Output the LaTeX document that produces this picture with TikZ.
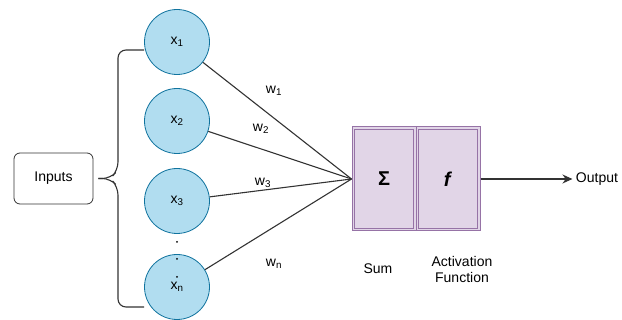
\documentclass[tikz,border=0pt]{standalone}
\usepackage{fontspec}
\setmainfont{Liberation Sans}
\usetikzlibrary{arrows.meta}
\definecolor{inblue}{HTML}{B1DDF0}
\definecolor{inedge}{HTML}{10739E}
\definecolor{unitfill}{HTML}{E1D5E7}
\definecolor{unitedge}{HTML}{9673A6}
\definecolor{wire}{HTML}{333333}
\begin{document}
\begin{tikzpicture}[x=1pt, y=-1pt,
  neuron/.style={circle, draw=inedge, fill=inblue, thick, minimum size=65pt, inner sep=0pt, font=\fontsize{14}{16}\selectfont},
  unitbox/.style={rectangle, draw=unitedge, line width=1pt, fill=unitfill, minimum width=64pt, minimum height=104pt, inner sep=0pt, font=\fontsize{20}{22}\selectfont},
  wlabel/.style={font=\fontsize{14}{16}\selectfont, inner sep=1pt},
  plain/.style={font=\fontsize{14}{16}\selectfont, align=center},
  wire/.style={draw=wire, line width=1.1pt},
  ]
 \useasboundingbox (0,0) rectangle (622,320);
 % inputs
 \node [rectangle, rounded corners=6pt, draw=wire, thick, minimum width=79pt, minimum height=51pt, font=\fontsize{14}{16}\selectfont] (inputs) at (53.5,178.5) {Inputs};
 \node [neuron] (x1) at (177,42) {x\textsubscript{1}};
 \node [neuron] (x2) at (177,121) {x\textsubscript{2}};
 \node [neuron] (x3) at (177,201) {x\textsubscript{3}};
 \node [neuron] (xn) at (177,287) {x\textsubscript{n}};
 \foreach \y in {242,259,277} \fill (177,\y) circle (1pt);
 % brace
 \coordinate (bt) at (144,50);
 \coordinate (bb) at (144,307);
 \draw [wire, rounded corners=8pt] (inputs.east) ++(5,0) -- ++(12,0) -- (118,170) -- (118,50) -- (bt);
 \draw [wire, rounded corners=8pt] (inputs.east) ++(5,0) -- ++(12,0) -- (118,187) -- (118,307) -- (bb);
 % neuron body
 \node [unitbox] (sum) at (384,179) {\textbf{Σ}};
 \node [unitbox] (act) at (448,179) {\textbf{\textit{f}}};
 \draw [unitedge, line width=1pt] ([shift={(3,3)}]sum.north west) rectangle ([shift={(-3,-3)}]sum.south east);
 \draw [unitedge, line width=1pt] ([shift={(3,3)}]act.north west) rectangle ([shift={(-3,-3)}]act.south east);
 \node [plain] (out) at (597,179) {Output};
 \foreach \n in {x1,x2,x3,xn} \draw [wire] (\n) -- (sum.west);
 \draw [wire, -{Stealth[length=10pt,width=9pt]}] (act.east) -- (out.west);
 % labels
 \node [wlabel] (w1) at (274,91) {w\textsubscript{1}};
 \node [wlabel] (w2) at (261,129) {w\textsubscript{2}};
 \node [wlabel] (w3) at (263,183) {w\textsubscript{3}};
 \node [wlabel] (wn) at (274,264) {w\textsubscript{n}};
 \node [plain] (sumtxt) at (378,269) {Sum};
 \node [plain, inner sep=0pt] (acttxt) at (462,269) {Activation\\Function};
\end{tikzpicture}
\end{document}
